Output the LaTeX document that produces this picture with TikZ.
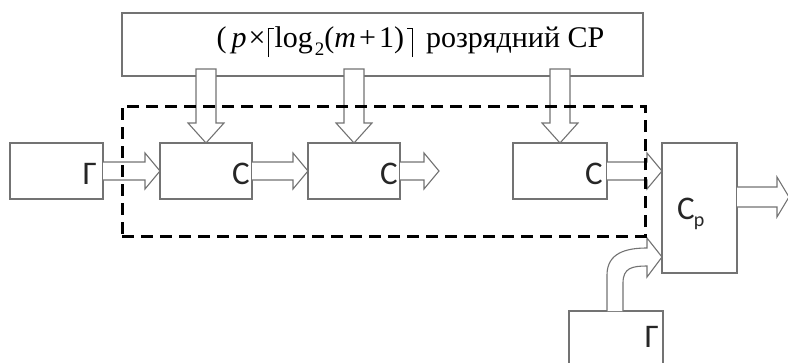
\documentclass[tikz,border=0pt]{standalone}
\usepackage{fontspec}
\setmainfont{Liberation Serif}
\newfontfamily\carlito{Carlito}
\usetikzlibrary{calc}

% thin ceiling brackets built from rules
\newcommand{\lceilbar}{\rule[-10pt]{1.1pt}{29pt}\hspace{-1.1pt}\rule[17.9pt]{6pt}{1.1pt}}
\newcommand{\rceilbar}{\rule[17.9pt]{6pt}{1.1pt}\hspace{-1.1pt}\rule[-10pt]{1.1pt}{29pt}}

\tikzset{
  blk/.style={draw=black!55, line width=1.1pt, fill=white, inner sep=0pt, outer sep=0pt},
  fatarrow/.style={draw=black!55, line width=1.1pt, fill=white, line join=miter},
  tag/.style={font=\carlito\fontsize{33}{33}\selectfont, inner sep=0pt, anchor=east, text=black!85},
  groupframe/.style={draw=black, line width=3pt, dash pattern=on 12pt off 7pt, inner sep=0pt, outer sep=0pt},
}

% hollow arrow pointing right: #1 tail point, #2 tip point
\newcommand{\hollowright}[2]{%
  \filldraw[fatarrow] let \p1=#1, \p2=#2 in
    (\x1,\y1+9) -- (\x2-15,\y1+9) -- (\x2-15,\y1+18) -- (\x2,\y1)
    -- (\x2-15,\y1-18) -- (\x2-15,\y1-9) -- (\x1,\y1-9);}
% wider variant for the output bus
\newcommand{\hollowrightwide}[2]{%
  \filldraw[fatarrow] let \p1=#1, \p2=#2 in
    (\x1,\y1+10) -- (\x2-11,\y1+10) -- (\x2-11,\y1+20) -- (\x2+1,\y1)
    -- (\x2-11,\y1-20) -- (\x2-11,\y1-10) -- (\x1,\y1-10);}
% hollow arrow pointing down: #1 tail point, #2 tip point
\newcommand{\hollowdown}[2]{%
  \filldraw[fatarrow] let \p1=#1, \p2=#2 in
    (\x1-10,\y1) -- (\x1+10,\y1) -- (\x1+10,\y2+20) -- (\x1+18,\y2+20)
    -- (\x1,\y2) -- (\x1-18,\y2+20) -- (\x1-10,\y2+20) -- cycle;}

\begin{document}
\begin{tikzpicture}[x=1pt,y=-1pt]
\useasboundingbox (0,0) rectangle (788,362);

% shift register on top
\node[blk, line width=1.5pt, minimum width=521pt, minimum height=63pt] (reg) at (382.5,44.5) {};

% blocks
\node[blk, minimum width=93pt, minimum height=56pt] (gen1) at (56.5,171) {};
\node[blk, minimum width=92pt, minimum height=56pt] (c1) at (206,171) {};
\node[blk, minimum width=92pt, minimum height=56pt] (c2) at (354,171) {};
\node[blk, minimum width=94pt, minimum height=56pt] (c3) at (560,171) {};
\node[blk, minimum width=75pt, minimum height=130pt] (cp) at (699.5,208) {};
\node[blk, minimum width=94pt, minimum height=64pt] (gen2) at (616,343) {};

% register outputs into the counters
\hollowdown{([yshift=7pt]c1.north |- reg.south)}{(c1.north)}
\hollowdown{([yshift=7pt]c2.north |- reg.south)}{(c2.north)}
\hollowdown{([yshift=7pt]c3.north |- reg.south)}{(c3.north)}

% data path
\hollowright{(gen1.east)}{(c1.west)}
\hollowright{(c1.east)}{(c2.west)}
\coordinate (c2out) at (439,171);
\hollowright{(c2.east)}{(c2out)}
\hollowright{(c3.east)}{(cp.west |- c3.east)}
\coordinate (cpout) at (788,197);
\hollowrightwide{(cp.east |- cpout)}{(cpout)}

% bent arrow from the lower generator into the result counter
\coordinate (bendtip) at ($(cp.south west)+(0,-16)$);
\filldraw[fatarrow] let \p1=(gen2.north west), \p2=(bendtip) in
  (\x1+38,\y1) -- (\x1+38,\y1+36)
  .. controls (\x1+38,\y1+58) and (\x2-36,\y2+9) .. (\x2-15,\y2+9)
  -- (\x2-15,\y2+19) -- (\x2,\y2) -- (\x2-15,\y2-20) -- (\x2-15,\y2-9)
  .. controls (\x2-30,\y2-9) and (\x1+54,\y2-11) .. (\x1+54,\y1+28)
  -- (\x1+54,\y1);

% dashed group around the counters
\node[groupframe, minimum width=523pt, minimum height=130pt] (group) at (383.5,171) {};

% labels
\node[font=\fontsize{30}{30}\selectfont, anchor=base, inner sep=0pt] (regtext) at (410.5,47)
  {(\hspace{5pt}\textit{p}\hspace{2pt}×\hspace{2pt}\lceilbar\hspace{1pt}log\hspace{2pt}\raisebox{-8pt}{\fontsize{19}{19}\selectfont 2}(\textit{m}\hspace{3pt}+\hspace{3pt}1)\hspace{3pt}\rceilbar\hspace{13pt}розрядний СР};
\node[tag] (gen1tag) at ([xshift=-6pt,yshift=-2.5pt]gen1.east) {Г};
\node[tag] (c1tag) at ([xshift=-2pt,yshift=-2.5pt]c1.east) {С};
\node[tag] (c2tag) at ([xshift=-2pt,yshift=-2.5pt]c2.east) {С};
\node[tag] (c3tag) at ([xshift=-4pt,yshift=-2.5pt]c3.east) {С};
\node[tag, anchor=west] (cptag) at (677,214) {С\hspace{-1pt}\raisebox{-7pt}{\fontsize{20}{20}\selectfont р}};
\node[tag] (gen2tag) at (659,337) {Г};
\end{tikzpicture}
\end{document}
